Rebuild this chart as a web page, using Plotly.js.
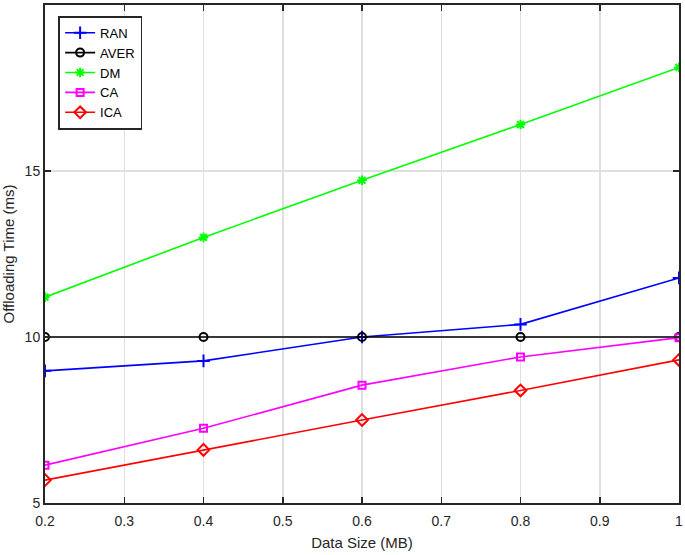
<!DOCTYPE html>
<html>
<head>
<meta charset="utf-8">
<script src="https://cdn.plot.ly/plotly-3.0.1.min.js"></script>
<style>html,body{margin:0;padding:0;background:#fff;}#chart{width:685px;height:555px;}</style>
</head>
<body>
<div id="chart"></div>
<script>
const dataSize = [0.2, 0.4, 0.6, 0.8, 1.0];
const ran  = [8.98, 9.28, 10.0, 10.38, 11.78];
const aver = [10.0, 10.0, 10.0, 10.0, 10.0];
const dm   = [11.2, 13.0, 14.72, 16.4, 18.12];
const ca   = [6.14, 7.25, 8.55, 9.4, 9.98];
const ica  = [5.69, 6.6, 7.5, 8.39, 9.31];
const xTicks = [0.2, 0.3, 0.4, 0.5, 0.6, 0.7, 0.8, 0.9, 1];
const xTickText = ["0.2", "0.3", "0.4", "0.5", "0.6", "0.7", "0.8", "0.9", "1"];
const yTicks = [5, 10, 15, 20];

function tr(name, y, color, symbol, size) {
  return {x: dataSize, y: y, name: name, type: 'scatter', mode: 'lines+markers',
    line: {color: color, width: 1.6},
    marker: {symbol: symbol, size: size, color: color, line: {color: color, width: 2}}};
}
const traces = [
  tr('RAN', ran, '#0000ff', 'cross-thin-open', 9),
  tr('AVER', aver, '#000000', 'circle-open', 8),
  tr('DM', dm, '#00ff00', 'asterisk-open', 8),
  tr('CA', ca, '#ff00ff', 'square-open', 7),
  tr('ICA', ica, '#ff0000', 'diamond-open', 9)
];
const font = {family: 'Liberation Sans, Arial, Helvetica, sans-serif', color: '#262626'};
const layout = {
  width: 685, height: 555,
  margin: {l: 45, r: 6, t: 5, b: 52},
  paper_bgcolor: '#fff', plot_bgcolor: '#fff',
  font: Object.assign({size: 14}, font),
  showlegend: true,
  legend: {x: 0.021, y: 0.978, xanchor: 'left', yanchor: 'top', bgcolor: '#fff',
    bordercolor: '#262626', borderwidth: 1.8, font: {size: 13, color: '#000'},
    itemwidth: 30, tracegroupgap: 0},
  xaxis: {range: [0.2, 1], tickvals: xTicks, ticktext: xTickText, ticks: 'inside', ticklen: 6,
    tickcolor: '#262626', tickwidth: 1.5, ticklabelstandoff: 4,
    showline: true, linecolor: '#262626', linewidth: 2, mirror: 'ticks',
    showgrid: true, gridcolor: '#dfdfdf', gridwidth: 1.5, zeroline: false,
    tickfont: {size: 14},
    title: {text: 'Data Size (MB)', font: {size: 15}, standoff: 10}},
  yaxis: {range: [5, 20], tickvals: yTicks, ticks: 'inside', ticklen: 6,
    tickcolor: '#262626', tickwidth: 1.5,
    showline: true, linecolor: '#262626', linewidth: 2, mirror: 'ticks',
    showgrid: true, gridcolor: '#dfdfdf', gridwidth: 1.5, zeroline: false,
    tickfont: {size: 14},
    title: {text: 'Offloading Time (ms)', font: {size: 15}, standoff: 6}}
};
Plotly.newPlot('chart', traces, layout, {displayModeBar: false, staticPlot: true});
</script>
</body>
</html>
